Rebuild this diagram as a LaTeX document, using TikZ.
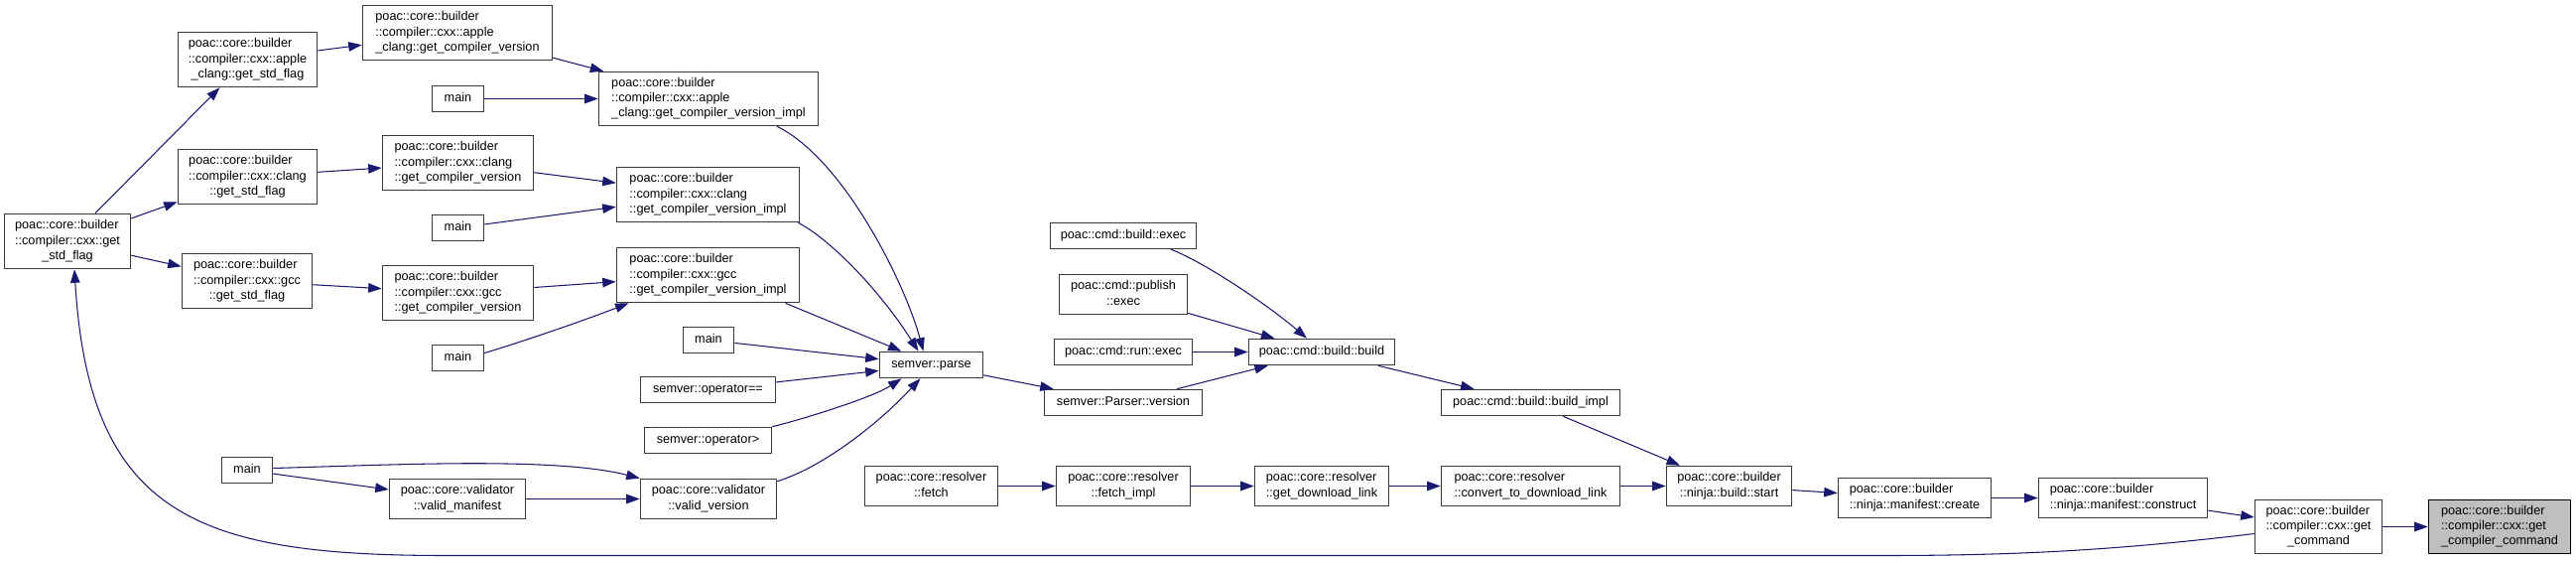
\documentclass[tikz,border=0pt]{standalone}
\usepackage{fontspec}
\setmainfont{Liberation Sans}
\usetikzlibrary{arrows.meta}
\definecolor{edgeblue}{HTML}{191970}
\definecolor{nodeborder}{HTML}{3A3A3A}
\definecolor{rootfill}{HTML}{BFBFBF}
\newcommand\lbone[1]{\begin{tabular}{@{}c@{}}#1\end{tabular}}
\newcommand\lbtwo[2]{\begin{tabular}{@{}l@{}}#1\\\multicolumn{1}{@{}c@{}}{#2}\end{tabular}}
\newcommand\lbthree[3]{\begin{tabular}{@{}l@{}}#1\\#2\\\multicolumn{1}{@{}c@{}}{#3}\end{tabular}}
\tikzset{
  fbox/.style={draw=nodeborder, line width=1.6pt, fill=white, inner sep=0pt,
    font=\fontsize{12.7}{15.2}\selectfont},
  hone/.style={fbox, minimum height=26pt},
  htwo/.style={fbox, minimum height=40pt},
  hthree/.style={fbox, minimum height=55pt},
  call/.style={draw=edgeblue, line width=1.05pt, -{Triangle[length=13.5pt,width=9.5pt]}},
}
\begin{document}
\begin{tikzpicture}[x=1pt,y=-1pt]
\fill[white] (0,0) rectangle (2596,567);
\useasboundingbox (0,0) rectangle (2596,567);

% nodes
\node[hthree, minimum width=127pt] (gsf) at (68,243) {\lbthree{poac::core::builder}{::compiler::cxx::get}{\_std\_flag}};
\node[hthree, minimum width=140pt] (asf) at (249.5,60) {\lbthree{poac::core::builder}{::compiler::cxx::apple}{\_clang::get\_std\_flag}};
\node[hthree, minimum width=140pt] (csf) at (249.5,178) {\lbthree{poac::core::builder}{::compiler::cxx::clang}{::get\_std\_flag}};
\node[hthree, minimum width=131pt] (gcsf) at (249,283) {\lbthree{poac::core::builder}{::compiler::cxx::gcc}{::get\_std\_flag}};
\node[hthree, minimum width=191pt] (agv) at (461,33) {\lbthree{poac::core::builder}{::compiler::cxx::apple}{\_clang::get\_compiler\_version}};
\node[hone, minimum width=52pt] (m1) at (461.5,99.5) {\lbone{main}};
\node[hthree, minimum width=152pt] (cgv) at (461.5,164) {\lbthree{poac::core::builder}{::compiler::cxx::clang}{::get\_compiler\_version}};
\node[hone, minimum width=52pt] (m2) at (461.5,229.5) {\lbone{main}};
\node[hthree, minimum width=152pt] (ggv) at (461.5,295) {\lbthree{poac::core::builder}{::compiler::cxx::gcc}{::get\_compiler\_version}};
\node[hone, minimum width=52pt] (m3) at (461.5,360.5) {\lbone{main}};
\node[hthree, minimum width=221pt, minimum height=54pt] (agvi) at (714,99.5) {\lbthree{poac::core::builder}{::compiler::cxx::apple}{\_clang::get\_compiler\_version\_impl}};
\node[hthree, minimum width=184pt] (cgvi) at (713.5,196) {\lbthree{poac::core::builder}{::compiler::cxx::clang}{::get\_compiler\_version\_impl}};
\node[hthree, minimum width=184pt] (ggvi) at (713.5,277) {\lbthree{poac::core::builder}{::compiler::cxx::gcc}{::get\_compiler\_version\_impl}};
\node[hone, minimum width=51pt] (m4) at (714,342.5) {\lbone{main}};
\node[hone, minimum width=136pt] (opeq) at (713.5,392.5) {\lbone{semver::operator==}};
\node[hone, minimum width=128pt] (opgt) at (713.5,443.5) {\lbone{semver::operator>}};
\node[hone, minimum width=51pt] (m5) at (249,473.5) {\lbone{main}};
\node[htwo, minimum width=137pt] (vman) at (461,502.5) {\lbtwo{poac::core::validator}{::valid\_manifest}};
\node[htwo, minimum width=137pt] (vver) at (714,502.5) {\lbtwo{poac::core::validator}{::valid\_version}};
\node[hone, minimum width=104pt] (parse) at (938.5,367.5) {\lbone{semver::parse}};
\node[htwo, minimum width=134pt] (fetch) at (938.5,489.5) {\lbtwo{poac::core::resolver}{::fetch}};
\node[hone, minimum width=147pt] (bexec) at (1132,237.5) {\lbone{poac::cmd::build::exec}};
\node[htwo, minimum width=129pt] (pexec) at (1132,296.5) {\lbtwo{poac::cmd::publish}{::exec}};
\node[hone, minimum width=139pt] (rexec) at (1132,354.5) {\lbone{poac::cmd::run::exec}};
\node[hone, minimum width=159pt] (pver) at (1132,405.5) {\lbone{semver::Parser::version}};
\node[hone, minimum width=147pt] (bbuild) at (1332,354.5) {\lbone{poac::cmd::build::build}};
\node[hone, minimum width=180pt] (bimpl) at (1542.5,405.5) {\lbone{poac::cmd::build::build\_impl}};
\node[htwo, minimum width=135pt] (fimpl) at (1132,489.5) {\lbtwo{poac::core::resolver}{::fetch\_impl}};
\node[htwo, minimum width=135pt] (gdl) at (1332,489.5) {\lbtwo{poac::core::resolver}{::get\_download\_link}};
\node[htwo, minimum width=180pt] (cdl) at (1542.5,489.5) {\lbtwo{poac::core::resolver}{::convert\_to\_download\_link}};
\node[htwo, minimum width=126pt] (start) at (1742.5,489.5) {\lbtwo{poac::core::builder}{::ninja::build::start}};
\node[htwo, minimum width=154pt] (create) at (1929.5,501.5) {\lbtwo{poac::core::builder}{::ninja::manifest::create}};
\node[htwo, minimum width=170pt] (construct) at (2139.5,501.5) {\lbtwo{poac::core::builder}{::ninja::manifest::construct}};
\node[hthree, minimum width=128pt, minimum height=54pt] (gcmd) at (2336.5,530.5) {\lbthree{poac::core::builder}{::compiler::cxx::get}{\_command}};
\node[hthree, minimum width=143pt, minimum height=54pt, fill=rootfill, draw=black] (root) at (2519,530.5) {\lbthree{poac::core::builder}{::compiler::cxx::get}{\_compiler\_command}};

% edges
\draw[call] (gsf) -- (asf);
\draw[call] (gsf) -- (csf);
\draw[call] (gsf) -- (gcsf);
\draw[call] (asf) -- (agv);
\draw[call] (csf) -- (cgv);
\draw[call] (gcsf) -- (ggv);
\draw[call] (agv) -- (agvi);
\draw[call] (m1) -- (agvi);
\draw[call] (cgv) -- (cgvi);
\draw[call] (m2) -- (cgvi);
\draw[call] (ggv) -- (ggvi);
\draw[call] ([yshift=5pt]m3.east) .. controls (520,346) and (580,326) .. ([xshift=-80pt]ggvi.south);
\draw[call] ([xshift=69pt]agvi.south) .. controls (850,160) and (912,285) .. ([xshift=-8pt]parse.north);
\draw[call] ([xshift=-2pt]cgvi.south east) .. controls (835,240) and (885,290) .. ([xshift=-13pt]parse.north);
\draw[call] ([xshift=78pt]ggvi.south) -- ([xshift=-30pt]parse.north);
\draw[call] (m4) -- (parse);
\draw[call] (opeq) -- (parse);
\draw[call] (opgt.north east) .. controls (810,422) and (880,400) .. ([xshift=-30pt]parse.south);
\draw[call] ([yshift=-3pt]vver.north east) .. controls (825,472) and (880,432) .. ([xshift=-11pt]parse.south);
\draw[call] ([yshift=2pt]m5.east) .. controls (400,468) and (560,460) .. (vver.north west);
\draw[call] (m5) -- (vman);
\draw[call] (vman) -- (vver);
\draw[call] (parse) -- (pver);
\draw[call] (pver) -- (bbuild);
\draw[call] (rexec) -- (bbuild);
\draw[call] (pexec) -- (bbuild);
\draw[call] ([xshift=48pt]bexec.south) .. controls (1210,262) and (1275,305) .. ([xshift=-15pt]bbuild.north);
\draw[call] (bbuild) -- (bimpl);
\draw[call] (bimpl) -- (start);
\draw[call] (fetch) -- (fimpl);
\draw[call] (fimpl) -- (gdl);
\draw[call] (gdl) -- (cdl);
\draw[call] (cdl) -- (start);
\draw[call] (start) -- (create);
\draw[call] (create) -- (construct);
\draw[call] (construct) -- (gcmd);
\draw[call] (gcmd) -- (root);
\draw[call] ([yshift=-7pt]gcmd.west) .. controls (2150,552) and (2050,559.5) .. (1900,559.5)
   -- (450,559.5) .. controls (200,559.5) and (90,520) .. ([xshift=7pt]gsf.south);
\end{tikzpicture}
\end{document}
